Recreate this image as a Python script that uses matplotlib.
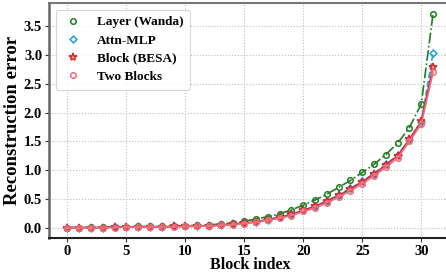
import matplotlib
matplotlib.use("Agg")
import matplotlib.pyplot as plt
import numpy as np

blocks = list(range(32))
layer_wanda = [0.00, 0.00, 0.01, 0.01, 0.01, 0.01, 0.02, 0.02, 0.02, 0.03, 0.03, 0.04,
               0.05, 0.06, 0.08, 0.11, 0.15, 0.19, 0.24, 0.31, 0.39, 0.48, 0.58, 0.70,
               0.82, 0.96, 1.10, 1.27, 1.47, 1.74, 2.15, 3.72]
attn_mlp = [0.00, 0.00, 0.00, 0.00, 0.01, 0.01, 0.01, 0.01, 0.01, 0.02, 0.02, 0.03,
            0.03, 0.04, 0.06, 0.08, 0.10, 0.14, 0.18, 0.23, 0.30, 0.37, 0.46, 0.57,
            0.68, 0.81, 0.94, 1.10, 1.26, 1.53, 1.83, 3.04]
block_besa = [0.00, 0.00, 0.00, 0.00, 0.01, 0.01, 0.01, 0.01, 0.01, 0.02, 0.02, 0.03,
              0.03, 0.04, 0.06, 0.08, 0.10, 0.14, 0.18, 0.23, 0.30, 0.37, 0.46, 0.56,
              0.67, 0.80, 0.93, 1.09, 1.25, 1.54, 1.85, 2.80]
two_blocks = [0.00, 0.00, 0.00, 0.00, 0.00, 0.01, 0.01, 0.01, 0.01, 0.01, 0.02, 0.02,
              0.03, 0.04, 0.05, 0.07, 0.09, 0.13, 0.16, 0.21, 0.28, 0.34, 0.43, 0.53,
              0.64, 0.76, 0.90, 1.05, 1.21, 1.50, 1.80, 2.70]

plt.rcParams['font.family'] = ['Liberation Serif', 'DejaVu Serif']
plt.rcParams['font.weight'] = 'bold'

fig = plt.figure(figsize=(4.46, 2.72), dpi=100)
ax = fig.add_axes([0.110, 0.124, 0.902, 0.865])

ax.plot(blocks, layer_wanda, linestyle='-.', color='#1e7d1e', lw=1.2, marker='o',
        ms=4, mfc='none', mec='#1e7d1e', mew=1.1, label='Layer (Wanda)', zorder=3)
ax.plot(blocks, attn_mlp, linestyle='--', color='#1aa3e0', lw=1.2, marker='D',
        ms=3.5, mfc='none', mec='#1aa3e0', mew=1.1, label='Attn-MLP', zorder=3)
ax.plot(blocks, block_besa, linestyle='-', color='#d62738', lw=1.2, marker='*',
        ms=6, mfc='#f0c040', mec='#d62738', mew=1.1, label='Block (BESA)', zorder=4)
ax.plot(blocks, two_blocks, linestyle='-', color='#e8707e', lw=1.2, marker='o',
        ms=4, mfc='none', mec='#e8707e', mew=1.1, label='Two Blocks', zorder=5)

ax.set_xticks([0, 5, 10, 15, 20, 25, 30])
ax.set_yticks([0.0, 0.5, 1.0, 1.5, 2.0, 2.5, 3.0, 3.5])
ax.set_yticklabels(['0.0', '0.5', '1.0', '1.5', '2.0', '2.5', '3.0', '3.5'])
ax.tick_params(labelsize=10.5, length=3, width=0.8, pad=2, colors='#333333', labelcolor='black')
for lab in ax.get_xticklabels() + ax.get_yticklabels():
    lab.set_fontweight('bold')

ax.grid(True, linestyle=':', color='#bbbbbb', lw=0.8)
ax.set_axisbelow(True)

ax.spines['left'].set_color('#666666')
ax.spines['left'].set_linewidth(1.8)
ax.spines['top'].set_color('#777777')
ax.spines['top'].set_linewidth(1.5)
ax.spines['bottom'].set_color('#222222')
ax.spines['bottom'].set_linewidth(1.5)
ax.spines['right'].set_visible(False)

ax.set_xlabel('Block index', fontsize=11.5, fontweight='bold', labelpad=-1)
ax.set_ylabel('Reconstruction error', fontsize=13.5, fontweight='bold', labelpad=2)

leg = ax.legend(loc='upper left', fontsize=9.5, frameon=True, markerscale=1.0,
                handlelength=1.6, borderpad=0.5, labelspacing=0.45, handletextpad=1.0)
for h in leg.get_lines():
    h.set_linestyle('none')
leg.get_frame().set_edgecolor('#cccccc')
leg.get_frame().set_linewidth(0.8)
for t in leg.get_texts():
    t.set_fontweight('bold')

fig.savefig('out.png', dpi=100)
